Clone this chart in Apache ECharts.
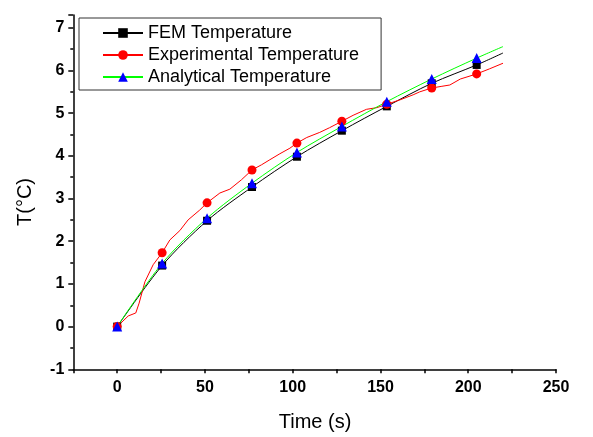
<!DOCTYPE html>
<html>
<head>
<meta charset="utf-8">
<script src="https://cdn.jsdelivr.net/npm/echarts@6/dist/echarts.min.js"></script>
<style>
html,body{margin:0;padding:0;background:#fff;}
#chart{width:593px;height:437px;}
</style>
</head>
<body>
<div id="chart"></div>
<script>
// ---- data ----
const seriesNames = ['FEM Temperature', 'Experimental Temperature', 'Analytical Temperature'];
const markerTimes = [0, 25.6, 51.2, 76.8, 102.4, 128, 153.6, 179.2, 204.8];
const femTemp = [0, 1.43, 2.48, 3.27, 3.98, 4.59, 5.16, 5.70, 6.13];
const analyticalTemp = [0, 1.48, 2.54, 3.36, 4.08, 4.69, 5.27, 5.80, 6.29];
const lineEndTime = 219.8;
const femEndTemp = 6.41;
const analyticalEndTemp = 6.56;
const expTimes = [0, 6.3, 10.6, 12.5, 15.8, 20.5, 25.6, 30, 35.7, 40.4, 47, 51.2, 58.5, 64.2, 70.8, 76.8, 82.2, 87, 92.7, 98.4, 102.4, 108, 115.4, 121, 128, 134.4, 142, 148, 153.6, 161, 168.6, 172.4, 179.2, 185, 189.5, 195.5, 204.8, 212.2, 219.8];
const expTemp = [0, 0.25, 0.32, 0.55, 1.05, 1.45, 1.73, 2.03, 2.25, 2.5, 2.73, 2.90, 3.13, 3.22, 3.44, 3.67, 3.79, 3.91, 4.05, 4.18, 4.30, 4.43, 4.55, 4.66, 4.81, 4.95, 5.09, 5.13, 5.21, 5.31, 5.43, 5.50, 5.59, 5.63, 5.66, 5.80, 5.92, 6.04, 6.17];
const xTickLabels = [0, 50, 100, 150, 200, 250];
const yTickLabels = [-1, 0, 1, 2, 3, 4, 5, 6, 7];

// ---- build series data ----
function withMarkers(times, temps, endT, endV) {
  const d = times.map((t, i) => ({ value: [t, temps[i]] }));
  if (endT != null) d.push({ value: [endT, endV], symbol: 'none' });
  return d;
}
const femData = withMarkers(markerTimes, femTemp, lineEndTime, femEndTemp);
const anaData = withMarkers(markerTimes, analyticalTemp, lineEndTime, analyticalEndTemp);
const expData = expTimes.map((t, i) => {
  const item = { value: [t, expTemp[i]] };
  if (markerTimes.indexOf(t) < 0) item.symbol = 'none';
  return item;
});

const FONT = 'Liberation Sans, Arial, Helvetica, sans-serif';
const chart = echarts.init(document.getElementById('chart'), null, { renderer: 'canvas' });
chart.setOption({
  animation: false,
  backgroundColor: '#fff',
  textStyle: { fontFamily: FONT },
  grid: { left: 73.3, right: 37, top: 15, bottom: 67.7, containLabel: false },
  legend: {
    orient: 'vertical',
    left: 79, top: 18,
    padding: [6, 22, 4, 23],
    itemWidth: 40, itemHeight: 12, itemGap: 4,
    borderColor: '#333', borderWidth: 1,
    textStyle: { fontFamily: FONT, fontSize: 18, color: '#000', lineHeight: 17.5 },
    data: seriesNames
  },
  xAxis: {
    type: 'value', min: -25, max: 250, interval: 25,
    splitLine: { show: false },
    axisLine: { onZero: false, lineStyle: { color: '#000', width: 1.5 } },
    axisTick: { inside: false, length: 4, lineStyle: { color: '#000', width: 1.5 } },
    axisLabel: {
      margin: 10, color: '#000', fontWeight: 'bold', fontSize: 16, fontFamily: FONT,
      formatter: v => (xTickLabels.indexOf(v) >= 0 ? String(v) : '')
    }
  },
  yAxis: {
    type: 'value', min: -1, max: 7.3, interval: 1,
    splitLine: { show: false },
    axisLine: { onZero: false, lineStyle: { color: '#000', width: 1.5 } },
    axisTick: { inside: false, length: 5, lineStyle: { color: '#000', width: 1.5 } },
    minorTick: { show: true, splitNumber: 2, length: 3, lineStyle: { color: '#000', width: 1.5 } },
    axisLabel: {
      margin: 9, color: '#000', fontWeight: 'bold', fontSize: 16, fontFamily: FONT,
      formatter: v => (yTickLabels.indexOf(v) >= 0 ? String(v) : '')
    }
  },
  graphic: [
    { type: 'text', x: 315, y: 422, style: { text: 'Time (s)', fontSize: 20, fontFamily: FONT, fill: '#000', align: 'center', verticalAlign: 'middle' } },
    { type: 'text', x: 25, y: 202, rotation: Math.PI / 2, style: { text: 'T(°C)', fontSize: 20, fontFamily: FONT, fill: '#000', align: 'center', verticalAlign: 'middle' } }
  ],
  series: [
    {
      name: seriesNames[0], type: 'line', data: femData,
      smooth: 0.3,
      symbol: 'rect', symbolSize: 8,
      lineStyle: { color: '#000', width: 1 },
      itemStyle: { color: '#000' }
    },
    {
      name: seriesNames[1], type: 'line', data: expData,
      symbol: 'circle', symbolSize: 9,
      lineStyle: { color: '#ff0000', width: 1 },
      itemStyle: { color: '#ff0000' }
    },
    {
      name: seriesNames[2], type: 'line', data: anaData,
      smooth: 0.3,
      symbol: 'triangle', symbolSize: 10,
      lineStyle: { color: '#00ff00', width: 1 },
      itemStyle: { color: '#0000ff' }
    }
  ]
});
</script>
</body>
</html>
